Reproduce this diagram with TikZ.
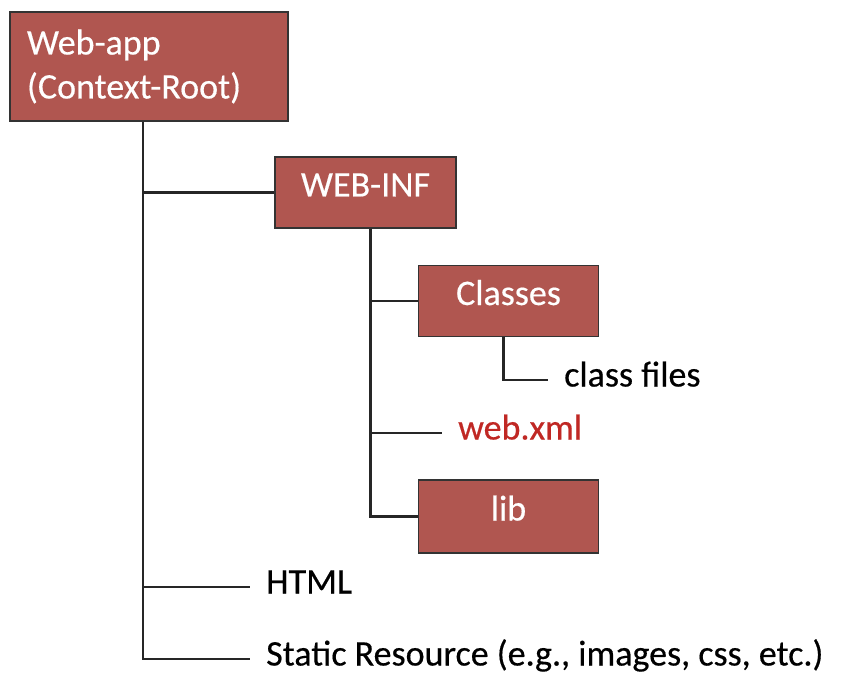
\documentclass[tikz,border=0pt]{standalone}
\usepackage{fontspec}
\setmainfont{Carlito}[FakeBold=0.4]
\definecolor{boxred}{RGB}{176,86,80}
\definecolor{xmlred}{RGB}{192,40,36}
\begin{document}
\begin{tikzpicture}[x=1pt,y=-1pt,
  box/.style={draw=black!80, line width=1.2pt, fill=boxred, text=white,
    font=\fontsize{36}{44}\selectfont, inner sep=0pt, text height=24pt, text depth=16pt,
    minimum width=180pt, minimum height=71pt},
  lbl/.style={font=\fontsize{36}{44}\selectfont, inner xsep=16pt, inner ysep=0pt,
    text height=24pt, text depth=11pt, anchor=west},
  conn/.style={line width=2.6pt, black!85}]
\useasboundingbox[fill=white] (0,0) rectangle (842,692);
\node[box, minimum width=278pt, minimum height=109pt, align=left, text width=244pt,
  inner xsep=17pt, text height={}, text depth={}] (webapp) at (149,66.5) {Web-app\\(Context-Root)};
\node[box, minimum width=181pt] (webinf) at (365.5,192.5) {WEB-INF};
\node[box] (classes) at (508.5,301) {Classes};
\node[box, minimum height=73pt] (lib) at (508.5,516.5) {lib};
\node[lbl] (classfiles) at (548,380) {class files};
\node[lbl, text=xmlred] (webxml) at (442,433) {web.xml};
\node[lbl] (html) at (250,587) {HTML};
\node[lbl] (static) at (250,659) {Static Resource (e.g., images, css, etc.)};
\draw[conn] ([xshift=-6pt]webapp.south) |- (webinf.west);
\draw[conn] ([xshift=-6pt]webapp.south) |- (html.west);
\draw[conn] ([xshift=-6pt]webapp.south) |- (static.west);
\draw[conn] ([xshift=5pt]webinf.south) |- (classes.west);
\draw[conn] ([xshift=5pt]webinf.south) |- (webxml.west);
\draw[conn] ([xshift=5pt]webinf.south) |- (lib.west);
\draw[conn] ([xshift=-5pt]classes.south) |- (classfiles.west);
\end{tikzpicture}
\end{document}
